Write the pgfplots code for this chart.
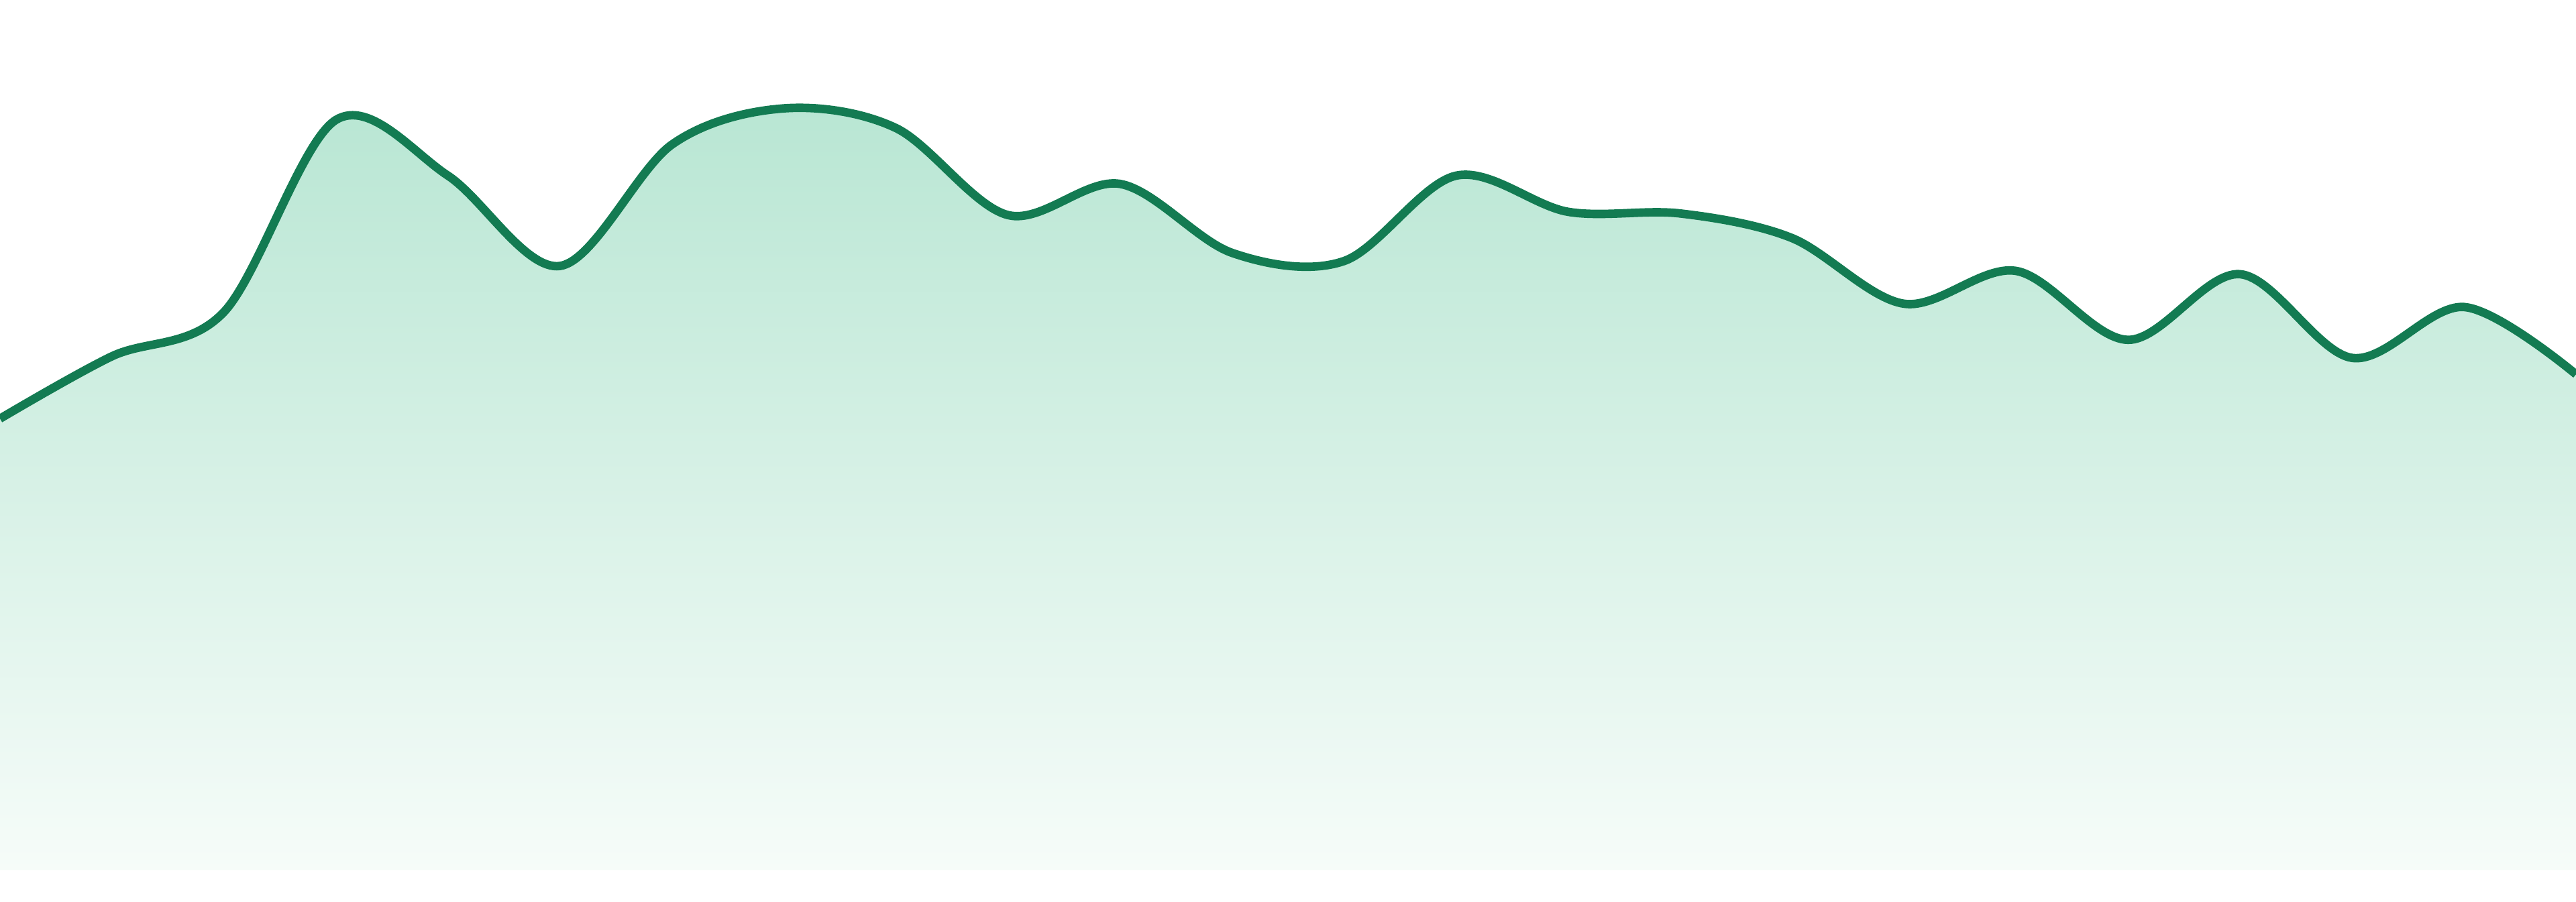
\documentclass[border=0pt]{standalone}
\usepackage{pgfplots}
\usepackage{pgfplotstable}
\pgfplotsset{compat=1.18}

\definecolor{lineGreen}{HTML}{137B52}
\definecolor{fillTop}{HTML}{B8E6D3}
\definecolor{fillBottom}{HTML}{F6FCF9}

% values (arbitrary units, baseline = 0)
\pgfplotstableread{
x  y
0  275
1  313
2  340
3  457
4  423
5  368
6  442
7  464
8  452
9  399
10 418
11 376
12 371
13 423
14 401
15 400
16 385
17 345
18 365
19 323
20 363
21 312
22 343
23 302
}\series

\begin{document}
\begin{tikzpicture}
\begin{axis}[
    at={(0,0)}, anchor=south west,
    scale only axis,
    width=16cm, height=5.406cm,
    xmin=0, xmax=23,
    ymin=0, ymax=530,
    hide axis,
]
\addplot[draw=none, top color=fillTop, bottom color=fillBottom, smooth, tension=0.55]
    table[x=x, y=y] {\series} \closedcycle;
\addplot[lineGreen, line width=1.5pt, smooth, tension=0.55, mark=none]
    table[x=x, y=y] {\series};
\end{axis}
\pgfresetboundingbox
\path[use as bounding box] (0,-0.194cm) rectangle (16cm,5.406cm);
\end{tikzpicture}
\end{document}
